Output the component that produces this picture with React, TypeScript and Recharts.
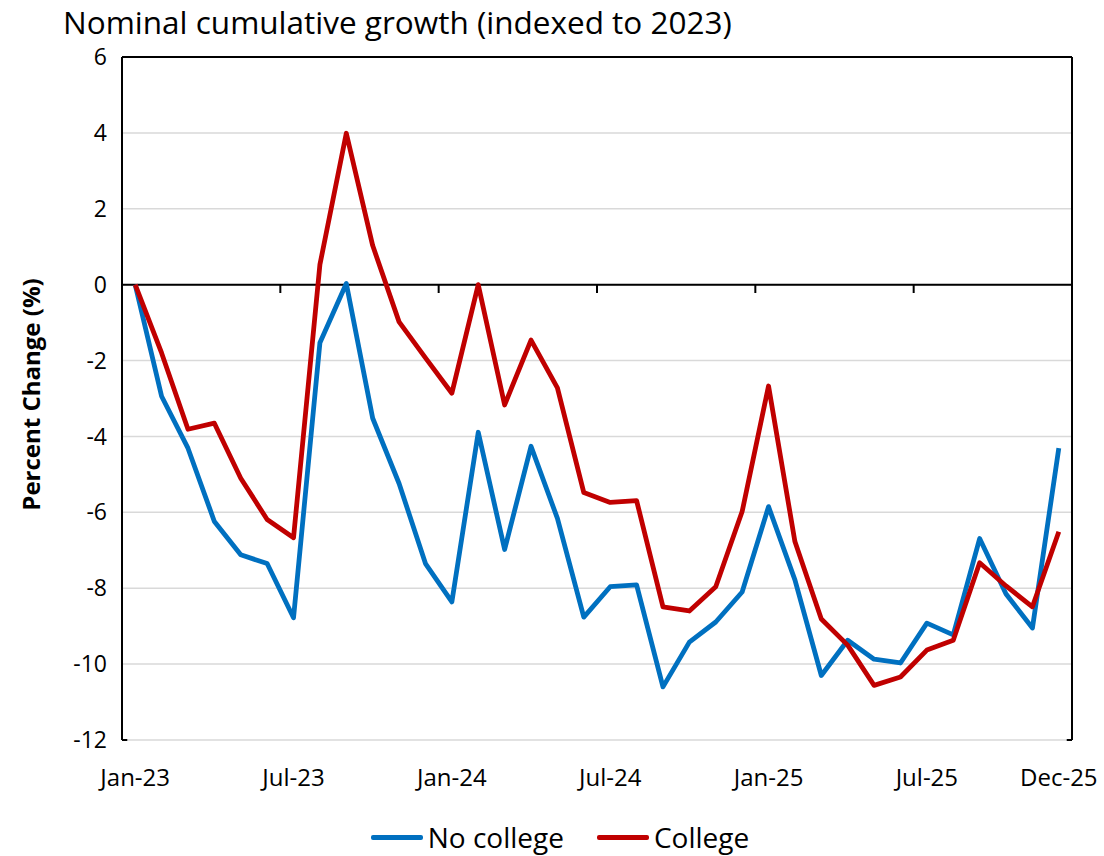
import { LineChart, Line, XAxis, YAxis, CartesianGrid, ReferenceLine } from "recharts"

const months = [
  "Jan-23", "Feb-23", "Mar-23", "Apr-23", "May-23", "Jun-23", "Jul-23", "Aug-23", "Sep-23", "Oct-23", "Nov-23", "Dec-23",
  "Jan-24", "Feb-24", "Mar-24", "Apr-24", "May-24", "Jun-24", "Jul-24", "Aug-24", "Sep-24", "Oct-24", "Nov-24", "Dec-24",
  "Jan-25", "Feb-25", "Mar-25", "Apr-25", "May-25", "Jun-25", "Jul-25", "Aug-25", "Sep-25", "Oct-25", "Nov-25", "Dec-25",
]

const noCollege = [
  0, -2.94, -4.31, -6.24, -7.12, -7.35, -8.78, -1.53, 0.03, -3.52, -5.24, -7.35,
  -8.36, -3.89, -6.98, -4.26, -6.16, -8.76, -7.96, -7.91, -10.6, -9.42, -8.89, -8.1,
  -5.85, -7.78, -10.3, -9.37, -9.87, -9.97, -8.92, -9.23, -6.69, -8.15, -9.05, -4.31,
]

const college = [
  0, -1.8, -3.81, -3.65, -5.1, -6.19, -6.67, 0.53, 3.99, 1.03, -0.98, -1.93,
  -2.86, 0, -3.17, -1.46, -2.72, -5.48, -5.74, -5.69, -8.49, -8.6, -7.96, -5.98,
  -2.67, -6.77, -8.81, -9.5, -10.56, -10.34, -9.63, -9.37, -7.33, -7.94, -8.49, -6.51,
]

const xTicks = [0, 6, 12, 18, 24, 30, 35]
const yTicks = [-12, -10, -8, -6, -4, -2, 0, 2, 4, 6]
// tick marks on the zero line sit between categories
const zeroTicks = [5.5, 11.5, 17.5, 23.5, 29.5, 35.5]

const data = months.map((m, i) => ({ x: i, month: m, noCollege: noCollege[i], college: college[i] }))

const FONT = "'Open Sans', Lato, sans-serif"

export default function App() {
  return (
    <div style={{ position: "absolute", left: 0, top: 0, width: 1104, height: 856, background: "#fff", fontFamily: FONT }}>
      <div style={{ position: "absolute", left: 63, top: 0, fontSize: 31.5, lineHeight: "43px", color: "#000", whiteSpace: "nowrap" }}>
        Nominal cumulative growth (indexed to 2023)
      </div>
      <LineChart
        width={1104}
        height={856}
        data={data}
        margin={{ top: 57, right: 32, left: 0, bottom: 0 }}
      >
        <CartesianGrid vertical={false} stroke="#d9d9d9" strokeWidth={1.5} />
        <XAxis
          dataKey="x"
          type="number"
          domain={[-0.5, 35.5]}
          ticks={xTicks}
          tickFormatter={(v: number) => months[v]}
          axisLine={false}
          tickLine={false}
          tickMargin={23}
          height={116}
          tick={{ fill: "#000", fontSize: 24, fontFamily: FONT }}
          interval={0}
        />
        <YAxis
          domain={[-12, 6]}
          ticks={yTicks}
          width={122}
          axisLine={{ stroke: "#000", strokeWidth: 2 }}
          tickLine={false}
          tickSize={0}
          tickMargin={15}
          tick={{ fill: "#000", fontSize: 23, fontFamily: FONT }}
          label={(props: any) => {
            const vb = props.viewBox || {}
            const cx = 30
            const cy = (vb.y ?? 57) + (vb.height ?? 683) / 2 - 4
            return (
              <text
                x={cx}
                y={cy}
                transform={`rotate(-90, ${cx}, ${cy})`}
                textAnchor="middle"
                dominantBaseline="central"
                fontSize={24}
                fontWeight="bold"
                fontFamily={FONT}
                fill="#000"
              >
                Percent Change (%)
              </text>
            )
          }}
        />
        <ReferenceLine y={6} stroke="#000" strokeWidth={2} />
        <ReferenceLine x={35.5} stroke="#000" strokeWidth={2} />
        <ReferenceLine y={0} stroke="#000" strokeWidth={2} />
        {zeroTicks.map((t) => (
          <ReferenceLine key={t} segment={[{ x: t, y: 0 }, { x: t, y: -0.22 }]} stroke="#000" strokeWidth={2} />
        ))}
        <ReferenceLine segment={[{ x: -0.5, y: -12 }, { x: -0.3, y: -12 }]} stroke="#000" strokeWidth={2} />
        <ReferenceLine segment={[{ x: 35.3, y: -12 }, { x: 35.5, y: -12 }]} stroke="#000" strokeWidth={2} />
        <Line
          type="linear"
          dataKey="noCollege"
          name="No college"
          stroke="#0070C0"
          strokeWidth={4.8}
          strokeLinejoin="round"
          dot={false}
          isAnimationActive={false}
        />
        <Line
          type="linear"
          dataKey="college"
          name="College"
          stroke="#C00000"
          strokeWidth={4.8}
          strokeLinejoin="round"
          dot={false}
          isAnimationActive={false}
        />
      </LineChart>
      <div
        style={{
          position: "absolute",
          left: 0,
          width: 1104,
          top: 818,
          height: 38,
          display: "flex",
          justifyContent: "center",
          alignItems: "center",
          gap: 33,
          fontSize: 28,
          color: "#000",
          paddingLeft: 8,
        }}
      >
        {[
          { label: "No college", color: "#0070C0" },
          { label: "College", color: "#C00000" },
        ].map((it) => (
          <div key={it.label} style={{ display: "flex", alignItems: "center", gap: 5 }}>
            <div style={{ width: 52, height: 5, background: it.color, borderRadius: 2 }} />
            <span>{it.label}</span>
          </div>
        ))}
      </div>
    </div>
  )
}
